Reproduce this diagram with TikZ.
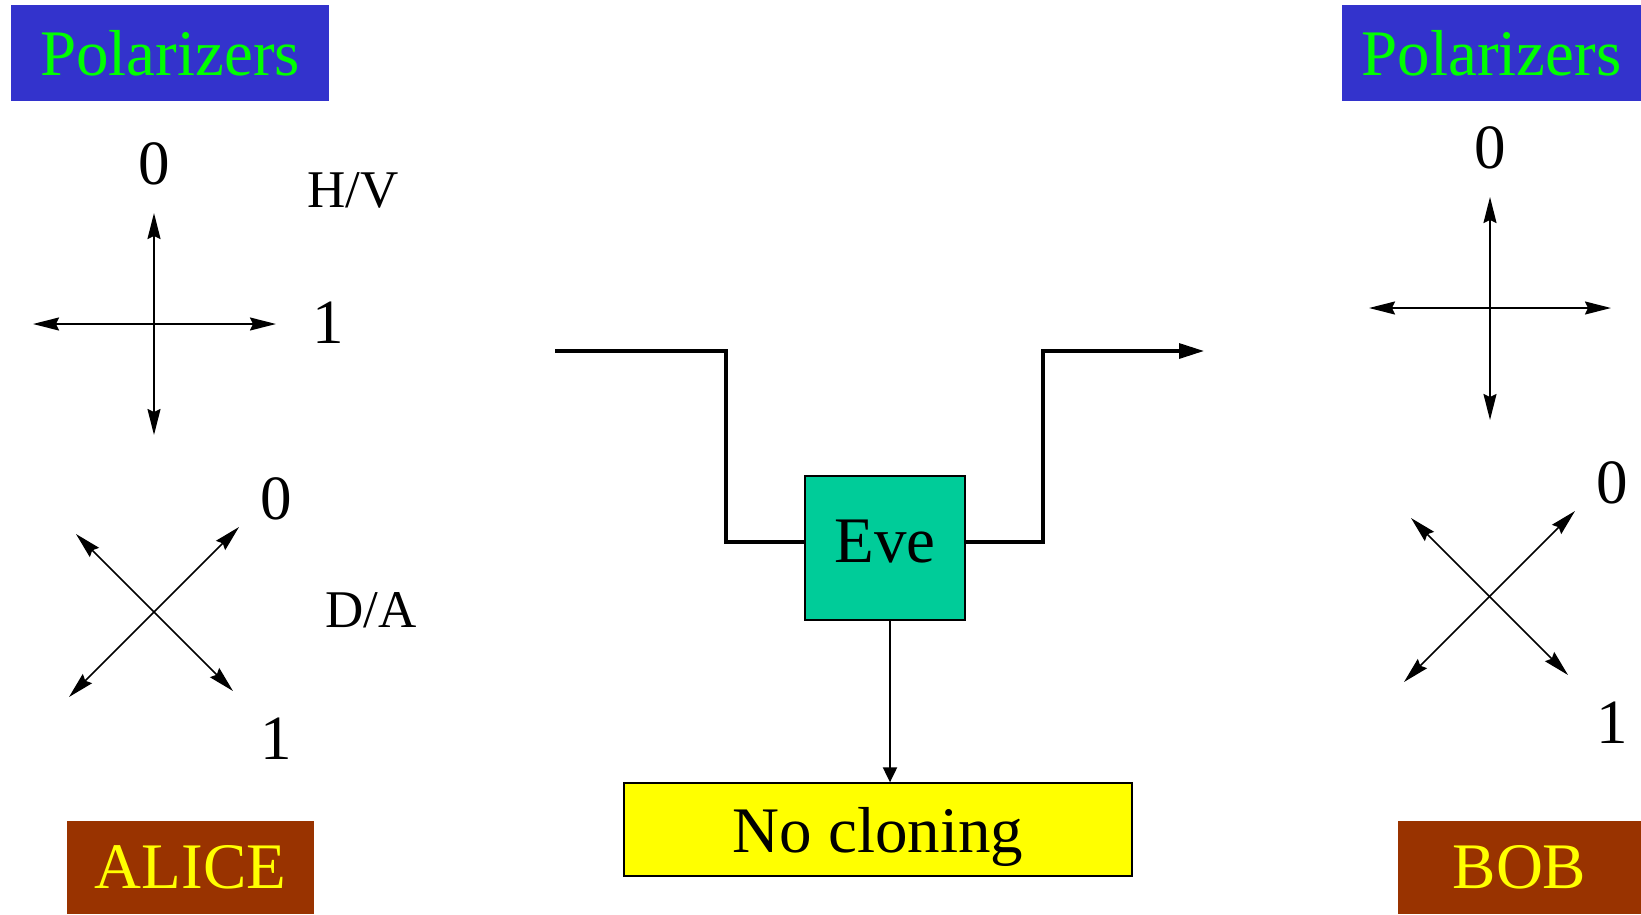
\documentclass[tikz,border=0pt]{standalone}
\usepackage{fontspec}
\setmainfont{Liberation Serif}
\usetikzlibrary{arrows.meta,positioning,calc}
\definecolor{polblue}{HTML}{3333CC}
\definecolor{polgreen}{HTML}{00FF00}
\definecolor{rust}{HTML}{993300}
\definecolor{evegreen}{HTML}{00CC99}
\definecolor{pureyellow}{HTML}{FFFF00}
\tikzset{pol/.style={fill=polblue,text=polgreen,inner sep=0pt,minimum height=96pt,font=\fontsize{65}{78}\selectfont},
 who/.style={fill=rust,text=pureyellow,inner sep=0pt,minimum height=93pt,font=\fontsize{65}{78}\selectfont},
 bit/.style={inner sep=0pt,font=\fontsize{63}{76}\selectfont},
 basis/.style={inner sep=0pt,font=\fontsize{53}{64}\selectfont},
 pa/.style={{Stealth[length=26pt,width=13pt,inset=3pt]}-{Stealth[length=26pt,width=13pt,inset=3pt]},line width=1.8pt},
 da/.style={pa,line width=1.5pt},
 wire/.style={line width=3.2pt},flow/.style={-{Triangle[length=15pt,width=14pt]},line width=2pt}}

\begin{document}
\begin{tikzpicture}[x=1pt,y=-1pt]
\useasboundingbox (0,0) rectangle (1641,914);
% Alice side
\node[pol,minimum width=318pt](apol) at (170,53){Polarizers};
\node[who,minimum width=247pt](alice) at (190.5,867.5){ALICE};
\draw[pa](154,213)--(154,435);\draw[pa](33,324)--(276,324);
\node[bit](a0) at (154,164){0};\node[bit](a1) at (328,323){1};
\node[basis](hv) at (353,190){H/V};
\draw[da](69,697)--(239,527);\draw[da](76,534)--(233,691);
\node[bit](d0) at (276,499){0};\node[bit](d1) at (276,739){1};
\node[basis](da) at (371,610){D/A};
% Eve in the channel
\node[draw,line width=1.3pt,fill=evegreen,minimum width=160pt,minimum height=144pt,inner sep=0pt,
 text depth=14pt,font=\fontsize{65}{78}\selectfont](eve) at (885,548){Eve};
\node[draw,line width=1.3pt,fill=pureyellow,minimum width=508pt,minimum height=93pt,inner sep=0pt,
 text depth=0pt,font=\fontsize{65}{78}\selectfont](nc) at (878,829.5){No cloning};
\coordinate(src) at (555,351);\coordinate(k1) at (726,351);
\coordinate(k2) at (1043,351);\coordinate(dst) at (1204,351);
\draw[wire](src)--(k1)|-([yshift=6pt]eve.west);
\draw[wire,-{Triangle[length=25pt,width=15pt]}]([yshift=6pt]eve.east)-|(k2)--(dst);
\draw[flow]([xshift=5pt]eve.south)--([xshift=5pt]eve.south|-nc.north);
% Bob side
\node[pol,minimum width=299pt](bpol) at (1491.5,53){Polarizers};
\node[who,minimum width=243pt](bob) at (1519.5,867.5){BOB};
\draw[pa](1490,197)--(1490,420);\draw[pa](1369,308)--(1611,308);
\node[bit](b0) at (1490,148){0};
\draw[da](1404,682)--(1575,511);\draw[da](1411,518)--(1568,675);
\node[bit](e0) at (1612,483){0};\node[bit](e1) at (1612,723){1};
\end{tikzpicture}
\end{document}
